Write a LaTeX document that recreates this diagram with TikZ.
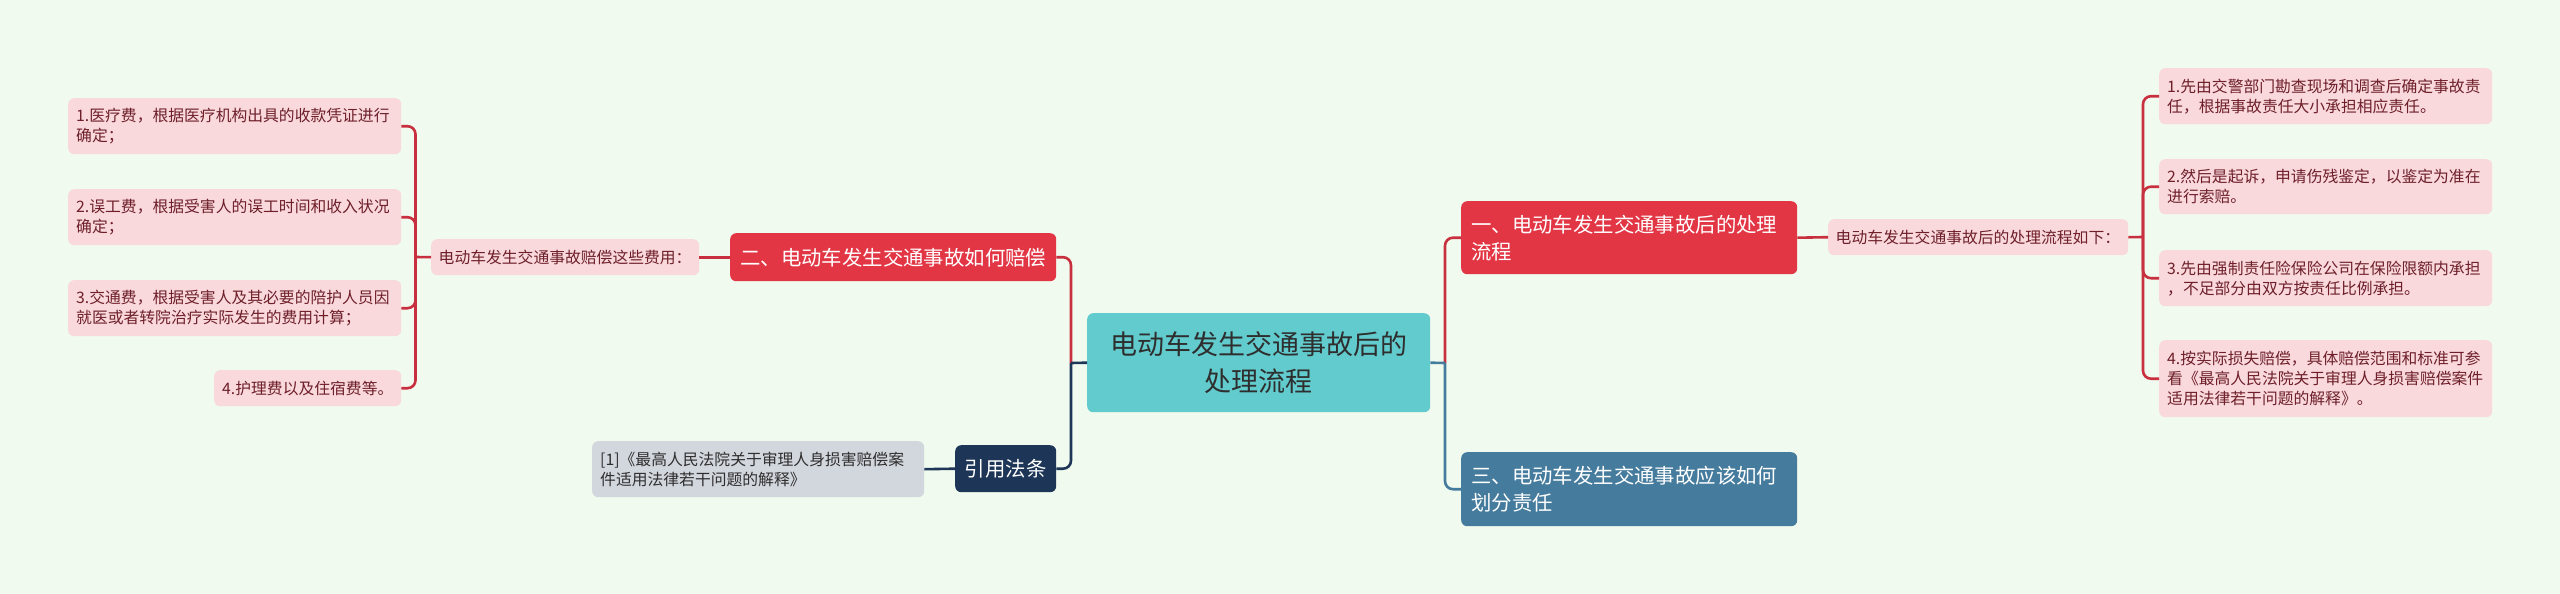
\documentclass[tikz,border=0pt]{standalone}
\usepackage{fontspec}
\newfontfamily\cjk{Noto Sans CJK SC}
\definecolor{bgc}{HTML}{F0FAEE}
\definecolor{pinkc}{HTML}{F9D9DC}
\definecolor{pinktxt}{HTML}{6E1F2A}
\definecolor{redc}{HTML}{E23645}
\definecolor{redline}{HTML}{C9303F}
\definecolor{tealc}{HTML}{62CBCD}
\definecolor{navyc}{HTML}{1D3557}
\definecolor{bluec}{HTML}{457B9D}
\definecolor{grayc}{HTML}{D2D6DD}
\definecolor{darktxt}{HTML}{2E2E2E}
\tikzset{
  box/.style={anchor=north west, rounded corners=6pt, inner ysep=0pt, align=left},
  pinkbox/.style={box, fill=pinkc, text=pinktxt, inner xsep=8pt, font=\cjk\fontsize{15.8}{20}\selectfont},
  redbox/.style={box, fill=redc, text=white, inner xsep=10pt, font=\cjk\fontsize{20.4}{27}\selectfont},
  bluebox/.style={box, fill=bluec, text=white, inner xsep=10pt, font=\cjk\fontsize{20.4}{27}\selectfont},
  grybox/.style={box, fill=grayc, text=darktxt, inner xsep=8pt, font=\cjk\fontsize{15.8}{20}\selectfont},
  lawbox/.style={box, fill=navyc, text=white, inner sep=0pt, align=center, font=\cjk\fontsize{20.4}{27}\selectfont},
  centerbox/.style={box, fill=tealc, text=darktxt, inner sep=0pt, align=center, font=\cjk\fontsize{27}{36.7}\selectfont},
  conn/.style={line width=2.6pt, rounded corners=8pt},
  rconn/.style={conn, draw=redline},
  nconn/.style={conn, draw=navyc},
  bconn/.style={conn, draw=bluec},
}
\begin{document}
\begin{tikzpicture}[x=1pt,y=-1pt]
\fill[bgc] (0,0) rectangle (2560,594);
\useasboundingbox (0,0) rectangle (2560,594);

% left side
\node[pinkbox, text width=317pt, minimum height=56pt] (L1) at (68,98) {1.医疗费，根据医疗机构出具的收款凭证进行\\确定；};
\node[pinkbox, text width=317pt, minimum height=56pt] (L2) at (68,189) {2.误工费，根据受害人的误工时间和收入状况\\确定；};
\node[pinkbox, text width=317pt, minimum height=56pt] (L3) at (68,280) {3.交通费，根据受害人及其必要的陪护人员因\\就医或者转院治疗实际发生的费用计算；};
\node[pinkbox, text width=171pt, minimum height=36pt] (L4) at (214,370) {4.护理费以及住宿费等。};
\node[pinkbox, inner xsep=7.5pt, text width=253pt, minimum height=36pt] (M2) at (431,239) {电动车发生交通事故赔偿这些费用：};
\node[redbox, text width=306pt, minimum height=48pt] (B2) at (730,233) {二、电动车发生交通事故如何赔偿};

\node[grybox, text width=316pt, minimum height=56pt] (ref) at (592,441) {[1]《最高人民法院关于审理人身损害赔偿案\\件适用法律若干问题的解释》};
\node[lawbox, minimum width=101pt, minimum height=47pt] (law) at (955,445) {引用法条};

% center
\node[centerbox, minimum width=343pt, minimum height=99pt] (C) at (1087,313) {电动车发生交通事故后的\\处理流程};

% right side
\node[redbox, text width=316pt, minimum height=73pt] (B1) at (1461,201) {一、电动车发生交通事故后的处理\\流程};
\node[bluebox, text width=316pt, minimum height=74pt] (B3) at (1461,452) {三、电动车发生交通事故应该如何\\划分责任};
\node[pinkbox, inner xsep=7.5pt, text width=285pt, minimum height=36pt] (M1) at (1828,219) {电动车发生交通事故后的处理流程如下：};

\node[pinkbox, text width=317pt, minimum height=56pt] (R1) at (2159,68) {1.先由交警部门勘查现场和调查后确定事故责\\任，根据事故责任大小承担相应责任。};
\node[pinkbox, text width=317pt, minimum height=55pt] (R2) at (2159,159) {2.然后是起诉，申请伤残鉴定，以鉴定为准在\\进行索赔。};
\node[pinkbox, text width=317pt, minimum height=56pt] (R3) at (2159,250) {3.先由强制责任险保险公司在保险限额内承担\\，不足部分由双方按责任比例承担。};
\node[pinkbox, text width=317pt, minimum height=77pt] (R4) at (2159,340) {4.按实际损失赔偿，具体赔偿范围和标准可参\\看《最高人民法院关于审理人身损害赔偿案件\\适用法律若干问题的解释》。};

% junction coordinates
\coordinate (jl2) at (415.5,257);
\coordinate (jcl) at (1071,363);
\coordinate (jcr) at (1445,363);
\coordinate (jr1) at (2143,237);

% connectors left
\draw[rconn] (jl2) -- (M2.west);
\foreach \n in {L1,L2,L3,L4} \draw[rconn] (jl2) |- (\n.east);
\draw[rconn] (M2.east) -- (B2.west);
\draw[rconn] (jcl) |- (B2.east);
\draw[nconn] (jcl) |- (law.east);
\draw[nconn] (jcl) -- (C.west);
\draw[nconn] (ref.east) -- (law.west);

% connectors right
\draw[rconn] (jcr) |- (B1.west);
\draw[bconn] (jcr) |- (B3.west);
\draw[bconn] (C.east) -- (jcr);
\draw[rconn] (B1.east) -- (M1.west);
\draw[rconn] (jr1) -- (M1.east);
\foreach \n in {R1,R2,R3,R4} \draw[rconn] (jr1) |- (\n.west);
\end{tikzpicture}
\end{document}
